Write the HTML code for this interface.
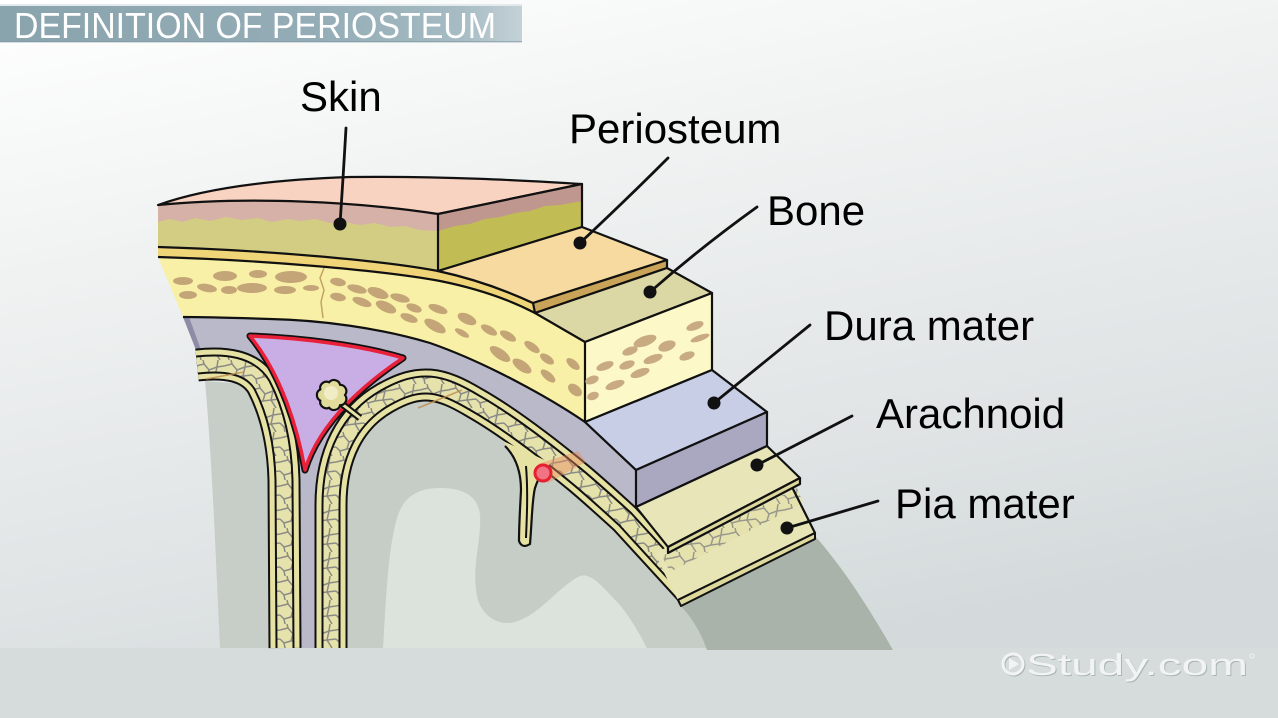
<!DOCTYPE html>
<html><head><meta charset="utf-8"><style>
html,body{margin:0;padding:0;background:#fff;}
svg{display:block;}
text{font-family:"Liberation Sans",Arial,sans-serif;}
</style></head><body>
<svg width="1278" height="718" viewBox="0 0 1278 718" xmlns="http://www.w3.org/2000/svg">
<defs>
<linearGradient id="bg" x1="0" y1="0" x2="0.35" y2="1">
<stop offset="0" stop-color="#ffffff"/>
<stop offset="0.35" stop-color="#f0f2f2"/>
<stop offset="0.75" stop-color="#e0e4e5"/>
<stop offset="1" stop-color="#d4dadb"/>
</linearGradient>
<linearGradient id="hdr" x1="0" y1="0" x2="1" y2="0">
<stop offset="0" stop-color="#8aa4ae"/>
<stop offset="0.6" stop-color="#93acb6"/>
<stop offset="0.88" stop-color="#a6bbc3"/>
<stop offset="1" stop-color="#c4d2d7"/>
</linearGradient>
<pattern id="web" width="28" height="24" patternUnits="userSpaceOnUse">
<rect width="28" height="24" fill="#e6e2ac"/>
<path d="M0,6 L8,4 L13,10 L21,7 L28,6 M8,4 L7,0 M21,7 L22,0 M13,10 L11,17 L4,19 L0,15 M11,17 L19,16 L21,7 M19,16 L24,24 M4,19 L5,24 M19,16 L28,15" stroke="#8b8b86" stroke-width="1.5" fill="none"/>
</pattern>
<clipPath id="bxc"><path d="M158,257 C260,260 380,270 440,281 C480,289 510,300 535,313 L585,342 L585,422 C560,405 530,388 500,373 C470,358 450,350 430,343 C380,328 320,320 270,319 C240,318 205,317 183,317 Z"/></clipPath>
<clipPath id="bsc"><path d="M585,342 L712,293 L712,370 L585,422 Z"/></clipPath>
</defs>

<rect width="1278" height="718" fill="url(#bg)"/>
<rect x="0" y="648" width="1278" height="70" fill="#d6dbdc"/>

<!-- header -->
<rect x="0" y="4" width="522" height="2" fill="#e4eaec"/>
<rect x="0" y="6" width="522" height="36" fill="url(#hdr)"/>
<rect x="0" y="41" width="522" height="1.5" fill="#7f97a0" opacity="0.6"/>
<text x="14" y="38" font-size="36" fill="#ffffff" textLength="482" lengthAdjust="spacingAndGlyphs">DEFINITION OF PERIOSTEUM</text>

<!-- brain fills -->
<path d="M205,381 L262,385 L284,480 L285,648 L220,648 C216,560 212,460 205,381 Z" fill="#c6cec7"/>
<path d="M331,648 L331,505 C331,455 350,418 385,398 C420,378 440,382 475,403 C505,420 540,446 580,479 C600,496 615,510 625,519 L690,590 L707,648 Z" fill="#c5cdc6"/>
<path d="M383,648 C386,600 388,545 398,515 C405,495 420,488 440,488 C462,488 478,495 480,515 C482,540 470,570 478,600 C484,618 500,626 515,622 C540,615 560,585 580,576 C592,572 605,590 620,605 C632,620 640,635 647,648 Z" fill="#dce2dc"/>
<path d="M678,603 L815,536 C845,570 870,610 893,650 L707,650 C700,630 690,615 678,603 Z" fill="#a9b3a9"/>

<!-- dura -->
<path d="M183,317 C205,317 240,318 270,319 C320,320 380,328 430,343 C450,350 470,358 500,373 C530,388 560,405 585,422 L636,470 L636,507 L600,490 L540,448 L475,405 L430,385 L385,398 L350,420 L331,500 L331,648 L284,648 L283,480 L262,385 L240,364 L200,365 L196,350 Z" fill="#b9b9c9"/>
<path d="M183,317 L189,317 L201,350 L196,350 Z" fill="#8c8ca6"/>

<!-- meninges left hemisphere -->
<g fill="none">
<path d="M197,365 C225,362 250,365 262,385 C275,410 283,440 284,480 L285,648" stroke="#111" stroke-width="33"/>
<path d="M197,365 C225,362 250,365 262,385 C275,410 283,440 284,480 L285,648" stroke="#e6e2a4" stroke-width="29"/>
<path d="M197,365 C225,362 250,365 262,385 C275,410 283,440 284,480 L285,648" stroke="#111" stroke-width="19"/>
<path d="M197,365 C225,362 250,365 262,385 C275,410 283,440 284,480 L285,648" stroke="url(#web)" stroke-width="15"/>
</g>
<!-- meninges right hemisphere -->
<g fill="none">
<path d="M331,648 L331,505 C331,455 350,418 385,398 C420,378 440,382 475,403 C505,420 540,446 580,479 C600,496 615,510 625,519 L690,590" stroke="#111" stroke-width="33"/>
<path d="M331,648 L331,505 C331,455 350,418 385,398 C420,378 440,382 475,403 C505,420 540,446 580,479 C600,496 615,510 625,519 L690,590" stroke="#e6e2a4" stroke-width="29"/>
<path d="M331,648 L331,505 C331,455 350,418 385,398 C420,378 440,382 475,403 C505,420 540,446 580,479 C600,496 615,510 625,519 L690,590" stroke="#111" stroke-width="19"/>
<path d="M331,648 L331,505 C331,455 350,418 385,398 C420,378 440,382 475,403 C505,420 540,446 580,479 C600,496 615,510 625,519 L690,590" stroke="url(#web)" stroke-width="15"/>
</g>
<!-- vessel lines -->
<path d="M418,408 L462,390" stroke="#c08a4a" stroke-width="1.5" opacity="0.8"/>
<path d="M206,379 L244,372" stroke="#c08a4a" stroke-width="1.5" opacity="0.8"/>

<!-- sulcus finger (flares into the pia band) -->
<path d="M503,441 C515,455 521,470 521,490 C520,510 519,525 519,541 Q522,549 530,544 C532,520 532,500 535,488 C538,478 543,470 551,463 Z" fill="#e6e2a4"/>
<path d="M505,446 C516,457 521,472 521,490 C520,510 519,525 519,541 Q522,549 530,544 C532,520 532,500 535,488 C538,479 541,473 547,468" fill="none" stroke="#111" stroke-width="2.2"/>
<path d="M526,466 C528,490 527,515 526,538" fill="none" stroke="#111" stroke-width="2"/>

<!-- blood tint + red vessel -->
<path d="M538,464 L578,451 L586,462 L548,483 Z" fill="#e88a5a" opacity="0.45"/>
<circle cx="543" cy="473" r="8" fill="#f07484" stroke="#e5202f" stroke-width="3"/>

<!-- sinus -->
<path d="M250,336 C300,338 360,345 403,358 C370,380 320,420 305,470 C298,430 282,375 250,336 Z" fill="#c9aee6" stroke="#111" stroke-width="7" stroke-linejoin="round"/>
<path d="M250,336 C300,338 360,345 403,358 C370,380 320,420 305,470 C298,430 282,375 250,336 Z" fill="#c9aee6" stroke="#e8203a" stroke-width="3.5" stroke-linejoin="round"/>

<!-- arachnoid granulation -->
<path d="M342,404 L360,418" stroke="#111" stroke-width="7"/>
<path d="M342,404 L360,418" stroke="#e6e2a4" stroke-width="3"/>
<path d="M345,395 A6.3,6.3 0 0 1 340.1,405.2 A6.3,6.3 0 0 1 329.1,407.7 A6.3,6.3 0 0 1 320.3,400.6 A6.3,6.3 0 0 1 320.3,389.4 A6.3,6.3 0 0 1 329.1,382.3 A6.3,6.3 0 0 1 340.1,384.8 A6.3,6.3 0 0 1 345,395 Z" fill="#e2dc9c" stroke="#111" stroke-width="2.2"/>
<circle cx="331" cy="393" r="7" fill="#f0ecc6"/>

<!-- bone cross-section -->
<path d="M158,257 C260,260 380,270 440,281 C480,289 510,300 535,313 L585,342 L585,422 C560,405 530,388 500,373 C470,358 450,350 430,343 C380,328 320,320 270,319 C240,318 205,317 183,317 Z" fill="#f8f0a6"/>
<g clip-path="url(#bxc)" fill="#c4a577">
<ellipse cx="183" cy="281" rx="10" ry="4"/>
<ellipse cx="225" cy="276" rx="12" ry="5"/>
<ellipse cx="258" cy="274" rx="9" ry="4"/>
<ellipse cx="291" cy="277" rx="16" ry="6"/>
<ellipse cx="188" cy="295" rx="9" ry="4"/>
<ellipse cx="207" cy="288" rx="10" ry="4" transform="rotate(10 207 288)"/>
<ellipse cx="229" cy="290" rx="8" ry="4"/>
<ellipse cx="252" cy="288" rx="15" ry="5"/>
<ellipse cx="285" cy="290" rx="11" ry="4"/>
<ellipse cx="311" cy="288" rx="8" ry="3"/>
<ellipse cx="338" cy="282" rx="8" ry="4" transform="rotate(10 338 282)"/>
<ellipse cx="357" cy="289" rx="10" ry="4" transform="rotate(15 357 289)"/>
<ellipse cx="378" cy="293" rx="11" ry="5" transform="rotate(20 378 293)"/>
<ellipse cx="400" cy="298" rx="10" ry="4" transform="rotate(15 400 298)"/>
<ellipse cx="338" cy="297" rx="8" ry="4" transform="rotate(10 338 297)"/>
<ellipse cx="362" cy="302" rx="10" ry="4" transform="rotate(20 362 302)"/>
<ellipse cx="386" cy="307" rx="11" ry="5" transform="rotate(25 386 307)"/>
<ellipse cx="414" cy="308" rx="8" ry="4" transform="rotate(20 414 308)"/>
<ellipse cx="438" cy="309" rx="10" ry="4" transform="rotate(20 438 309)"/>
<ellipse cx="409" cy="318" rx="9" ry="4" transform="rotate(20 409 318)"/>
<ellipse cx="467" cy="319" rx="10" ry="5" transform="rotate(25 467 319)"/>
<ellipse cx="435" cy="326" rx="12" ry="5" transform="rotate(30 435 326)"/>
<ellipse cx="489" cy="330" rx="9" ry="4" transform="rotate(30 489 330)"/>
<ellipse cx="462" cy="333" rx="8" ry="3" transform="rotate(30 462 333)"/>
<ellipse cx="508" cy="336" rx="9" ry="4" transform="rotate(30 508 336)"/>
<ellipse cx="532" cy="347" rx="9" ry="4" transform="rotate(35 532 347)"/>
<ellipse cx="500" cy="354" rx="12" ry="5" transform="rotate(35 500 354)"/>
<ellipse cx="547" cy="359" rx="8" ry="4" transform="rotate(35 547 359)"/>
<ellipse cx="522" cy="366" rx="11" ry="5" transform="rotate(35 522 366)"/>
<ellipse cx="548" cy="376" rx="9" ry="4" transform="rotate(40 548 376)"/>
<ellipse cx="573" cy="364" rx="8" ry="4" transform="rotate(40 573 364)"/>
<ellipse cx="575" cy="390" rx="8" ry="5" transform="rotate(40 575 390)"/>
</g>
<path d="M322,259 L324,268 L320,278 L324,290 L321,302 L323,318" fill="none" stroke="#c2a462" stroke-width="1.5"/>

<!-- periosteum band -->
<path d="M158,247 C260,250 380,260 438,271 C475,279 505,290 533,303 L535,313 C510,300 480,289 440,281 C380,270 260,260 158,257 Z" fill="#efd478"/>

<!-- skin cross-section -->
<path d="M158,205 C250,196 360,202 438,214 L438,271 C380,260 260,250 158,247 Z" fill="#d3cd84"/>
<path d="M158,205 C250,196 360,202 438,214 L438,231 L420,230 L405,226 L390,227 L375,223 L360,225 L345,222 L330,223 L315,219 L300,221 L288,219 L272,222 L258,218 L242,220 L226,217 L210,221 L196,218 L182,222 L170,219 L158,222 Z" fill="#d5b1a7"/>
<!-- skin top -->
<path d="M158,205 C200,190 260,180 350,177 C450,176 530,181 582,184 L438,214 C360,202 250,196 158,205 Z" fill="#f8d3c2" stroke="#111" stroke-width="2.2" stroke-linejoin="round"/>
<!-- skin right face -->
<path d="M438,214 L582,184 L582,227 L438,271 Z" fill="#c2bc54"/>
<path d="M438,214 L582,184 L582,201 L560,205 L545,206 L530,211 L515,213 L500,217 L485,219 L470,224 L455,226 L438,231 Z" fill="#bf978f"/>
<path d="M438,214 L582,184 L582,227 L438,271 Z" fill="none" stroke="#111" stroke-width="2.2" stroke-linejoin="round"/>

<!-- cross-section outlines -->
<g fill="none" stroke="#111" stroke-width="2.2">
<path d="M158,247 C260,250 380,260 438,271 C475,279 505,290 533,303"/>
<path d="M158,257 C260,260 380,270 440,281 C480,289 510,300 535,313"/>
<path d="M183,317 C205,317 240,318 270,319 C320,320 380,328 430,343 C450,350 470,358 500,373 C530,388 560,405 585,422 L636,470"/>
</g>

<!-- blocks -->
<g stroke="#111" stroke-width="2.2" stroke-linejoin="round">
<path d="M438,271 L582,227 L667,260 L533,303 C505,290 475,279 438,271 Z" fill="#f6daa0"/>
<path d="M533,303 L667,260 L667,268 L535,313 Z" fill="#c9a358"/>
<path d="M535,313 L667,268 L712,293 L585,342 Z" fill="#dcd8a6"/>
<path d="M585,342 L712,293 L712,370 L585,422 Z" fill="#fdf8c8"/>
</g>
<g clip-path="url(#bsc)" fill="#c8ab80">
<ellipse cx="695" cy="326" rx="9" ry="4" transform="rotate(-20 695 326)"/>
<ellipse cx="700" cy="338" rx="10" ry="3" transform="rotate(-20 700 338)"/>
<ellipse cx="667" cy="346" rx="9" ry="5" transform="rotate(-20 667 346)"/>
<ellipse cx="645" cy="341" rx="12" ry="5" transform="rotate(-20 645 341)"/>
<ellipse cx="630" cy="351" rx="8" ry="4" transform="rotate(-20 630 351)"/>
<ellipse cx="687" cy="356" rx="8" ry="4" transform="rotate(-20 687 356)"/>
<ellipse cx="653" cy="359" rx="10" ry="4" transform="rotate(-20 653 359)"/>
<ellipse cx="627" cy="365" rx="8" ry="4" transform="rotate(-20 627 365)"/>
<ellipse cx="605" cy="366" rx="9" ry="4" transform="rotate(-20 605 366)"/>
<ellipse cx="640" cy="373" rx="10" ry="4" transform="rotate(-20 640 373)"/>
<ellipse cx="592" cy="380" rx="7" ry="4" transform="rotate(-20 592 380)"/>
<ellipse cx="615" cy="385" rx="10" ry="4" transform="rotate(-20 615 385)"/>
<ellipse cx="593" cy="396" rx="6" ry="4" transform="rotate(-20 593 396)"/>
</g>

<!-- pia plate -->
<path d="M655,553 L792,487 L815,533 L678,600 L670,585 Z" fill="#e7e4b6"/>
<path d="M662,556 L797,488 L803,503 L670,572 Z" fill="url(#web)" opacity="0.85"/>
<path d="M792,487 L815,533 L678,600" fill="none" stroke="#111" stroke-width="2.2" stroke-linejoin="round"/>
<path d="M678,600 L815,533 L815,539 L681,606 Z" fill="#ddd89c" stroke="#111" stroke-width="2" stroke-linejoin="round"/>

<g stroke="#111" stroke-width="2.2" stroke-linejoin="round">
<path d="M585,422 L712,370 L767,412 L636,470 Z" fill="#c8cee6"/>
<path d="M636,470 L767,412 L767,446 L636,507 Z" fill="#a9a8c0"/>
<path d="M636,507 L767,446 L800,478 L668,547 Z" fill="#e8e5b9"/>
<path d="M668,547 L800,478 L800,484 L668,553 Z" fill="#ddd89c"/>
</g>

<!-- leaders -->
<g fill="none" stroke="#111" stroke-width="2.8" stroke-linecap="round">
<path d="M346,128 Q343,180 340,224"/>
<path d="M668,158 Q628,198 580,243"/>
<path d="M757,207 Q700,248 650,292"/>
<path d="M810,325 L714,403"/>
<path d="M852,416 L757,465"/>
<path d="M878,501 L787,528"/>
</g>
<g fill="#111">
<circle cx="340" cy="224" r="6.5"/>
<circle cx="580" cy="243" r="6.5"/>
<circle cx="650" cy="292" r="6.5"/>
<circle cx="714" cy="403" r="6.5"/>
<circle cx="757" cy="465" r="6.5"/>
<circle cx="787" cy="528" r="6.5"/>
</g>

<!-- labels -->
<g font-size="42" fill="#000">
<text x="300" y="111">Skin</text>
<text x="569" y="143">Periosteum</text>
<text x="767" y="225">Bone</text>
<text x="824" y="340">Dura mater</text>
<text x="876" y="428">Arachnoid</text>
<text x="895" y="518">Pia mater</text>
</g>

<!-- logo -->
<g opacity="0.95">
<circle cx="1014" cy="665" r="10" fill="none" stroke="#aab3b5" stroke-width="3"/>
<circle cx="1013" cy="664" r="10" fill="none" stroke="#f4f6f6" stroke-width="3"/>
<path d="M1009,658 L1009,670 L1019,664 Z" fill="#f4f6f6"/>
<text x="1027" y="676" font-size="31" fill="#aab3b5" textLength="222" lengthAdjust="spacingAndGlyphs">Study.com</text>
<text x="1026" y="675" font-size="31" fill="#f4f6f6" textLength="222" lengthAdjust="spacingAndGlyphs">Study.com</text>
<circle cx="1252" cy="656" r="2" fill="none" stroke="#f4f6f6" stroke-width="0.8"/>
</g>
</svg>
</body></html>
